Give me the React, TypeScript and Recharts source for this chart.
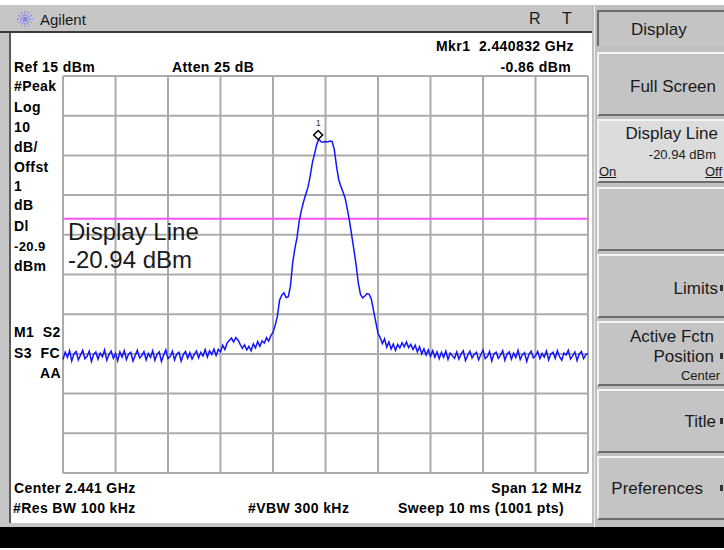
import React from 'react';
import {
  LineChart,
  Line,
  XAxis,
  YAxis,
  CartesianGrid,
  ReferenceLine,
  ReferenceDot,
} from 'recharts';

// sweep: center 2.441 GHz, span 12 MHz, x in MHz offset from center
const sweepStartMHz = -6;
const sweepStepMHz = 0.05;

// trace levels in dBm, one row per MHz (20 points each)
const traceLevels = [
  -56.4, -54.6, -55.9, -54.2, -56.8, -55.0, -54.4, -56.5, -55.3, -54.1, -56.2, -55.6, -54.3, -56.9, -55.1, -54.5, -56.3, -54.8, -55.7, -54.0,
  -56.6, -55.2, -54.3, -56.1, -54.9, -56.7, -54.5, -55.8, -54.2, -56.4, -55.0, -54.6, -56.8, -55.4, -54.1, -56.0, -55.5, -54.4, -56.5, -54.9,
  -55.9, -54.2, -56.6, -55.1, -54.5, -56.9, -55.3, -54.0, -56.2, -55.7, -54.3, -56.5, -55.0, -54.6, -56.8, -55.2, -54.4, -56.1, -54.7, -56.3,
  -55.2, -54.3, -56.0, -54.6, -55.5, -53.9, -55.8, -54.2, -55.1, -53.8, -55.4, -53.9, -54.5, -52.8, -53.9, -52.3, -51.6, -51.0, -52.0, -50.9,
  -51.5, -52.6, -53.6, -52.7, -54.0, -53.1, -54.2, -52.5, -53.5, -51.9, -53.1, -51.7, -52.3, -50.9, -51.8, -50.4, -49.6, -47.8, -45.5, -41.5,
  -40.2, -39.6, -40.8, -40.6, -37.8, -32.0, -28.5, -25.6, -21.5, -18.8, -16.6, -14.8, -13.0, -10.2, -6.8, -4.6, -2.2, -0.9, -1.6, -1.7,
  -1.5, -1.6, -1.4, -1.5, -3.4, -7.6, -11.0, -12.8, -14.2, -15.8, -18.6, -21.6, -25.2, -28.8, -32.6, -37.2, -40.0, -40.9, -40.4, -39.8,
  -40.0, -41.3, -44.2, -47.0, -49.8, -50.9, -52.4, -51.2, -53.3, -52.0, -53.8, -52.5, -54.1, -52.6, -53.5, -52.2, -53.2, -52.0, -53.4, -52.6,
  -53.9, -52.8, -54.5, -53.2, -55.0, -53.7, -55.3, -54.0, -55.6, -54.2, -55.8, -54.5, -56.2, -54.6, -55.9, -54.3, -56.4, -54.8, -55.5, -56.1,
  -54.5, -56.3, -55.0, -54.2, -56.7, -55.4, -54.3, -56.0, -55.1, -54.6, -56.5, -55.2, -54.0, -56.2, -55.7, -54.4, -56.8, -55.0, -54.6, -56.1,
  -55.3, -54.2, -56.6, -55.0, -54.5, -56.3, -54.8, -55.9, -54.1, -56.4, -55.2, -54.7, -56.9, -55.1, -54.3, -56.0, -55.5, -54.4, -56.2, -54.9,
  -55.8, -54.3, -56.5, -55.0, -54.6, -56.1, -54.2, -55.7, -56.6, -54.8, -55.3, -54.1, -56.3, -55.5, -54.5, -56.7, -55.0, -54.4, -56.2, -55.2,
  -54.9,
];

const freqGridTicks = [-6, -4.8, -3.6, -2.4, -1.2, 0, 1.2, 2.4, 3.6, 4.8, 6];
const levelGridTicks = [-85, -75, -65, -55, -45, -35, -25, -15, -5, 5, 15];

const markerFreqMHz = -0.168;
const markerLevel = -0.86;
const displayLineLevel = -20.94;

const trace = traceLevels.map((level, i) => ({
  freq: Math.round((sweepStartMHz + i * sweepStepMHz) * 1000) / 1000,
  level,
}));

const W = 724;
const H = 550;

type TxtProps = {
  x: number;
  y: number;
  size?: number;
  bold?: boolean;
  end?: boolean;
  underline?: boolean;
  children: React.ReactNode;
};

const Txt = ({ x, y, size = 14, bold = false, end = false, underline = false, children }: TxtProps) => (
  <div
    style={{
      position: 'absolute',
      top: y - size / 2,
      height: size,
      lineHeight: `${size}px`,
      fontSize: size,
      fontWeight: bold ? 700 : 400,
      letterSpacing: bold ? 0.4 : 0,
      whiteSpace: 'nowrap',
      textDecoration: underline ? 'underline' : 'none',
      color: bold ? '#000' : '#1a1a1a',
      ...(end ? { right: W - x } : { left: x }),
    }}
  >
    {children}
  </div>
);

const Key = ({ top, height, lit = false }: { top: number; height: number; lit?: boolean }) => (
  <div
    style={{
      position: 'absolute',
      left: 597,
      top,
      width: 140,
      height,
      boxSizing: 'border-box',
      background: lit ? '#dcdcdc' : '#c4c4c4',
      borderTop: '2px solid #f4f4f4',
      borderLeft: '2px solid #f4f4f4',
      borderBottom: '2px solid #6c6c6c',
    }}
  />
);

const Tick = ({ y }: { y: number }) => (
  <div style={{ position: 'absolute', left: 720, top: y - 3, width: 3, height: 6, background: '#333' }} />
);

const MarkerShape = (props: any) => {
  const { cx, cy } = props;
  const c = cy - 4;
  return (
    <g>
      <path
        d={`M${cx},${c - 4.5} L${cx + 4.5},${c} L${cx},${c + 4.5} L${cx - 4.5},${c} Z`}
        fill="#fff"
        stroke="#000"
        strokeWidth={1.5}
      />
      <text x={cx} y={c - 9} textAnchor="middle" fontSize={9} fill="#333">
        1
      </text>
    </g>
  );
};

const Spark = () => (
  <svg width={18} height={18} style={{ position: 'absolute', left: 16, top: 10 }}>
    {[0, 30, 60, 90, 120, 150].map((a) => {
      const r = (a * Math.PI) / 180;
      return (
        <line
          key={a}
          x1={9 - 8 * Math.cos(r)}
          y1={9 - 8 * Math.sin(r)}
          x2={9 + 8 * Math.cos(r)}
          y2={9 + 8 * Math.sin(r)}
          stroke="#7070ff"
          strokeWidth={1}
          strokeDasharray="2 1"
        />
      );
    })}
  </svg>
);

const App: React.FC = () => {
  return (
    <div
      style={{
        position: 'absolute',
        left: 0,
        top: 0,
        width: W,
        height: H,
        overflow: 'hidden',
        background: '#fff',
        fontFamily: '"Liberation Sans", Arial, sans-serif',
      }}
    >
      {/* frame */}
      <div style={{ position: 'absolute', left: 0, top: 5, width: 593, height: 27, background: '#c6c6c6' }} />
      <div style={{ position: 'absolute', left: 0, top: 31, width: 593, height: 2, background: '#3c3c3c' }} />
      <div style={{ position: 'absolute', left: 0, top: 33, width: 9, height: 494, background: '#c6c6c6' }} />
      <div style={{ position: 'absolute', left: 9, top: 33, width: 2, height: 491, background: '#5a5a5a' }} />
      <div style={{ position: 'absolute', left: 0, top: 523, width: 593, height: 5, background: '#c6c6c6' }} />
      <div style={{ position: 'absolute', left: 0, top: 527, width: W, height: 21, background: '#000' }} />

      {/* softkey column */}
      <div style={{ position: 'absolute', left: 592, top: 5, width: 132, height: 522, background: '#c0c0c0' }} />
      <div style={{ position: 'absolute', left: 594, top: 5, width: 1, height: 522, background: '#f0f0f0' }} />
      <div
        style={{
          position: 'absolute',
          left: 597,
          top: 10,
          width: 140,
          height: 36,
          boxSizing: 'border-box',
          background: '#c4c4c4',
          borderTop: '2px solid #6c6c6c',
          borderLeft: '2px solid #6c6c6c',
        }}
      />
      <Key top={52} height={64} />
      <Key top={119} height={64} lit />
      <Key top={187} height={64} />
      <Key top={254} height={64} />
      <Key top={321} height={65} />
      <Key top={389} height={64} />
      <Key top={456} height={64} />

      <div style={{ position: 'absolute', left: 0, top: 0 }}>
        <LineChart
          width={W}
          height={H}
          data={trace}
          margin={{ top: 76, right: 136, bottom: 77, left: 63 }}
        >
          <XAxis
            dataKey="freq"
            type="number"
            domain={[-6, 6]}
            ticks={freqGridTicks}
            hide
          />
          <YAxis type="number" domain={[-85, 15]} ticks={levelGridTicks} hide />
          <CartesianGrid stroke="#ababab" strokeWidth={2} />
          <ReferenceLine y={displayLineLevel} stroke="#ff50ff" strokeWidth={2} />
          <Line
            type="linear"
            dataKey="level"
            stroke="#1414ff"
            strokeWidth={1.5}
            dot={false}
            isAnimationActive={false}
          />
          <ReferenceDot x={markerFreqMHz} y={markerLevel} shape={MarkerShape} />
        </LineChart>
      </div>

      {/* title bar */}
      <Spark />
      <Txt x={40} y={19} size={15}>Agilent</Txt>
      <Txt x={529} y={19} size={16}>R</Txt>
      <Txt x={562} y={19} size={16}>T</Txt>

      {/* status annotations */}
      <Txt x={574} y={46} bold end>Mkr1&nbsp;&nbsp;2.440832 GHz</Txt>
      <Txt x={571} y={67} bold end>-0.86 dBm</Txt>
      <Txt x={14} y={67} bold>Ref 15 dBm</Txt>
      <Txt x={172} y={67} bold>Atten 25 dB</Txt>

      <Txt x={14} y={86} bold>#Peak</Txt>
      <Txt x={14} y={107} bold>Log</Txt>
      <Txt x={14} y={127} bold>10</Txt>
      <Txt x={14} y={147} bold>dB/</Txt>
      <Txt x={14} y={167} bold>Offst</Txt>
      <Txt x={14} y={186} bold>1</Txt>
      <Txt x={14} y={205} bold>dB</Txt>
      <Txt x={14} y={226} bold>Dl</Txt>
      <Txt x={14} y={246} bold size={13}>-20.9</Txt>
      <Txt x={14} y={266} bold>dBm</Txt>
      <Txt x={14} y={332} bold>M1&nbsp;&nbsp;S2</Txt>
      <Txt x={14} y={353} bold>S3&nbsp;&nbsp;FC</Txt>
      <Txt x={61} y={373} bold end>AA</Txt>

      <Txt x={68} y={232} size={24}>Display Line</Txt>
      <Txt x={68} y={260} size={24}>-20.94 dBm</Txt>

      <Txt x={14} y={488} bold>Center 2.441 GHz</Txt>
      <Txt x={582} y={488} bold end>Span 12 MHz</Txt>
      <Txt x={13} y={508} bold>#Res BW 100 kHz</Txt>
      <Txt x={248} y={508} bold>#VBW 300 kHz</Txt>
      <Txt x={564} y={508} bold end>Sweep 10 ms (1001 pts)</Txt>

      {/* softkey labels */}
      <Txt x={631} y={29} size={17}>Display</Txt>
      <Txt x={716} y={86} size={17} end>Full Screen</Txt>
      <Txt x={718} y={133} size={17} end>Display Line</Txt>
      <Txt x={716} y={154} size={13} end>-20.94 dBm</Txt>
      <Txt x={599} y={171} size={13} underline>On</Txt>
      <Txt x={705} y={171} size={13} underline>Off</Txt>
      <Txt x={718} y={288} size={17} end>Limits</Txt>
      <Tick y={288} />
      <Txt x={714} y={336} size={17} end>Active Fctn</Txt>
      <Txt x={714} y={356} size={17} end>Position</Txt>
      <Tick y={356} />
      <Txt x={720} y={375} size={13} end>Center</Txt>
      <Txt x={716} y={421} size={17} end>Title</Txt>
      <Tick y={421} />
      <Txt x={703} y={488} size={17} end>Preferences</Txt>
      <Tick y={488} />
    </div>
  );
};

export default App;
